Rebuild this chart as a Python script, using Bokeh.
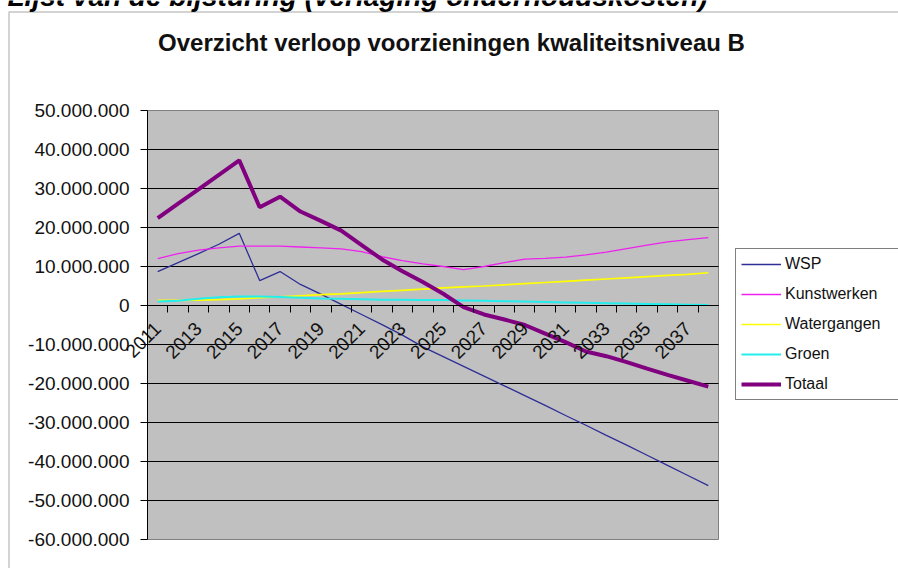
from math import pi
from bokeh.plotting import figure
from bokeh.models import (Range1d, LinearAxis, FixedTicker, Legend, LegendItem,
                          Label, BoxAnnotation)
from bokeh.embed import file_html
from bokeh.resources import INLINE

# ---------------- data (values in million euro) ----------------
years = [2011, 2012, 2013, 2014, 2015, 2016, 2017, 2018, 2019, 2020,
         2021, 2022, 2023, 2024, 2025, 2026, 2027, 2028, 2029, 2030,
         2031, 2032, 2033, 2034, 2035, 2036, 2037, 2038]

wsp_m = [8.7, 11.0, 13.3, 15.7, 18.5, 6.4, 8.7, 5.4, 2.9, 0.3,
         -2.3, -4.9, -7.6, -10.6, -13.1, -15.6, -18.1, -20.6, -23.1, -25.6,
         -28.2, -30.7, -33.3, -35.8, -38.4, -41.0, -43.6, -46.2]
kunstwerken_m = [12.0, 13.3, 14.2, 14.8, 15.2, 15.2, 15.2, 15.0, 14.8, 14.5,
                 13.8, 12.5, 11.5, 10.7, 10.0, 9.2, 10.0, 11.0, 11.9, 12.1,
                 12.4, 13.0, 13.7, 14.6, 15.5, 16.3, 16.9, 17.4]
watergangen_m = [1.3, 1.3, 1.4, 1.5, 1.7, 2.0, 2.2, 2.5, 2.8, 3.0,
                 3.3, 3.6, 3.9, 4.2, 4.5, 4.8, 5.0, 5.3, 5.6, 5.9,
                 6.2, 6.5, 6.8, 7.1, 7.4, 7.7, 8.0, 8.4]
groen_m = [1.0, 1.2, 1.7, 2.1, 2.3, 2.3, 2.2, 2.0, 1.8, 1.7,
           1.6, 1.5, 1.5, 1.4, 1.4, 1.3, 1.2, 1.1, 1.0, 0.9,
           0.8, 0.7, 0.6, 0.5, 0.4, 0.3, 0.2, 0.1]
totaal_m = [22.4, 26.1, 29.8, 33.5, 37.2, 25.2, 27.9, 24.1, 21.7, 19.2,
            15.5, 11.8, 8.8, 6.0, 3.0, -0.4, -2.3, -3.6, -5.0, -7.2,
            -9.4, -11.8, -13.0, -14.5, -16.2, -17.8, -19.3, -20.8]

series_names = ["WSP", "Kunstwerken", "Watergangen", "Groen", "Totaal"]

y_ticks = [-60000000, -50000000, -40000000, -30000000, -20000000, -10000000,
           0, 10000000, 20000000, 30000000, 40000000, 50000000]
y_tick_labels = ["-60.000.000", "-50.000.000", "-40.000.000", "-30.000.000",
                 "-20.000.000", "-10.000.000", "0", "10.000.000", "20.000.000",
                 "30.000.000", "40.000.000", "50.000.000"]
x_label_years = [2011, 2013, 2015, 2017, 2019, 2021, 2023, 2025, 2027,
                 2029, 2031, 2033, 2035, 2037]

title_text = "Overzicht verloop voorzieningen kwaliteitsniveau B"
heading_text = "Lijst van de bijsturing (verlaging onderhoudskosten)"

# ---------------- layout (pixels) ----------------
W, H = 898, 568
AREA_L, AREA_R, AREA_T, AREA_B = 147, 718, 110, 539   # plot-area edges in pixels
FONT = "Liberation Sans"
M = 1000000

x0, x1 = years[0] - 0.5, years[-1] + 0.5
y0, y1 = y_ticks[0], y_ticks[-1]
px_x = (AREA_R - AREA_L) / (x1 - x0)
px_y = (AREA_B - AREA_T) / (y1 - y0)
x_range = Range1d(x0 - AREA_L / px_x, x1 + (W - AREA_R) / px_x)
y_range = Range1d(y0 - (H - AREA_B) / px_y, y1 + AREA_T / px_y)

p = figure(width=W, height=H, output_backend="svg", toolbar_location=None,
           title=None, x_axis_location=None, y_axis_location=None,
           x_range=x_range, y_range=y_range, min_border=0,
           background_fill_color="white", border_fill_color="white",
           outline_line_color=None)
p.xgrid.visible = False
p.ygrid.visible = False

# plot area background
p.quad(left=[x0], right=[x1], bottom=[y0], top=[y1],
       fill_color="#C0C0C0", line_color="#808080", line_width=1, level="image")

# horizontal gridlines across the plot area only
grid_vals = y_ticks[1:-1]
p.segment(x0=[x0] * len(grid_vals), x1=[x1] * len(grid_vals),
          y0=grid_vals, y1=grid_vals, line_color="black", line_width=1)

ya = LinearAxis(ticker=FixedTicker(ticks=y_ticks), fixed_location=x0, bounds=(y0, y1),
                major_label_overrides=dict(zip(y_ticks, y_tick_labels)),
                major_tick_out=7, major_tick_in=0, minor_tick_line_color=None,
                axis_line_color="black", major_tick_line_color="black",
                major_label_standoff=11, major_label_text_font=FONT,
                major_label_text_font_size="19px", major_label_text_color="#111111")
p.add_layout(ya, "left")

boundaries = [y + 0.5 for y in years[:-1]]
xa = LinearAxis(ticker=FixedTicker(ticks=x_label_years, minor_ticks=boundaries),
                fixed_location=0, bounds=(x0, x1),
                major_tick_out=0, major_tick_in=0,
                minor_tick_out=7, minor_tick_in=0,
                minor_tick_line_color="black",
                axis_line_color="black",
                major_label_orientation=pi / 4,
                major_label_standoff=13,
                major_label_text_font=FONT,
                major_label_text_font_size="19px",
                major_label_text_color="#111111")
p.add_layout(xa, "below")

colors = ["#2e2e96", "#EE22EE", "#FFFF00", "#22EEEE", "#800080"]
widths = [1.3, 1.3, 1.7, 2.0, 4]
data = [wsp_m, kunstwerken_m, watergangen_m, groen_m, totaal_m]

items = []
for name, vals, c, w in zip(series_names, data, colors, widths):
    r = p.line(years, [v * M for v in vals], line_color=c, line_width=w)
    items.append(LegendItem(label=name, renderers=[r]))

legend = Legend(items=items, location=(735, H - 400), padding=5, spacing=10,
                glyph_height=20, glyph_width=40, label_standoff=4,
                label_width=108, label_text_font=FONT,
                label_text_font_size="16px", label_text_color="#111111",
                border_line_color="black", border_line_width=1,
                background_fill_color="white", background_fill_alpha=1,
                margin=0)
p.add_layout(legend)

title = Label(x=451, y=H - 42, x_units="screen", y_units="screen", text=title_text,
              text_align="center", text_baseline="alphabetic",
              text_font=FONT, text_font_size="24px", text_font_style="bold",
              text_color="#111111")
p.add_layout(title)

heading = Label(x=7, y=H + 4, x_units="screen", y_units="screen", text=heading_text,
                text_align="left", text_baseline="alphabetic",
                text_font=FONT, text_font_size="28px", text_font_style="bold italic",
                text_color="black")
p.add_layout(heading)

frame_box = BoxAnnotation(left=8.5, right=W + 100, top=H - 11.5, bottom=-100,
                          left_units="screen", right_units="screen",
                          top_units="screen", bottom_units="screen",
                          fill_color=None, line_color="#404040", line_width=1.5)
p.add_layout(frame_box)

open("out.html", "w").write(file_html(p, INLINE))
